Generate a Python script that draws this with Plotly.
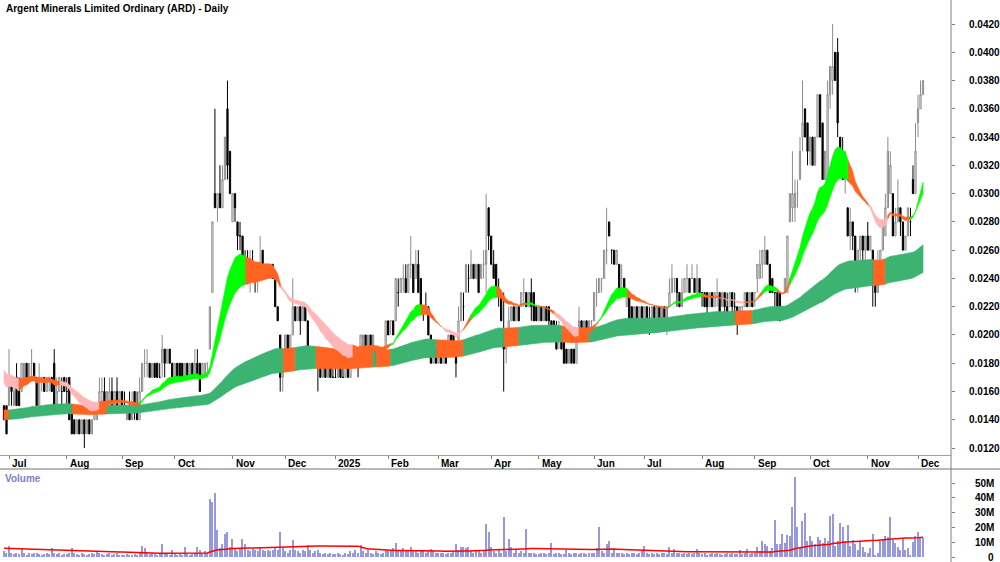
import numpy as np
import pandas as pd
import plotly.graph_objects as go

# ---------------- DATA (prices in thousandths of a dollar, volume in millions) ----------------
title_text = "Argent Minerals Limited Ordinary (ARD) - Daily"
month_tick_labels = ["Jul", "Aug", "Sep", "Oct", "Nov", "Dec", "2025", "Feb", "Mar", "Apr",
                     "May", "Jun", "Jul", "Aug", "Sep", "Oct", "Nov", "Dec"]
asx_holidays = ["2024-12-25", "2024-12-26", "2025-01-01", "2025-01-27", "2025-04-18",
                "2025-04-21", "2025-04-25", "2025-06-09"]
first_day, last_day = "2024-06-27", "2025-12-03"

# (open, high, low, close)
jun24 = [(15,15,14,14),(15,15,13,13)]
jul24 = [(15,19,15,17),(17,17,15,16),(15,17,15,16),(17,18,15,15),(16,17,15,15),
         (16,18,16,18),(17,18,17,18),(18,18,17,17),(17,18,17,18),(18,19,17,18),
         (18,18,17,17),(17,17,15,15),(15,18,15,17),(17,17,16,17),(17,17,16,16),
         (16,17,16,17),(17,17,16,17),(17,17,16,16),(18,19,15,15),(15,17,15,16),
         (16,17,16,17),(16,17,15,16),(17,17,16,16)]
aug24 = [(16,17,15,16),(17,17,14,14),(15,15,13,13),(14,14,13,13),(13,14,13,14),
         (14,14,13,13),(13,14,13,14),(14,14,12,13),(13,14,13,14),(14,14,13,13),
         (13,14,13,14),(14,15,14,15),(14,15,14,15),(15,17,15,16),(16,17,15,16),
         (16,17,15,15),(15,16,15,16),(15,17,15,16),(16,17,15,15),(15,16,15,16),
         (16,17,15,15),(15,16,15,16)]
sep24 = [(16,16,15,15),(15,16,15,15),(14,15,14,15),(15,16,14,14),(14,16,14,15),
         (16,16,14,15),(15,16,14,14),(14,17,14,16),(16,18,16,18),(18,19,17,18),
         (18,19,17,18),(18,18,17,17),(17,18,17,18),(18,18,17,17),(18,18,17,17),
         (17,18,17,17),(18,20,17,19),(19,19,17,18),(18,19,18,19),(19,19,18,18),
         (18,18,17,17)]
oct24 = [(17,18,17,18),(18,18,17,17),(18,18,17,17),(18,18,17,17),(17,18,17,18),
         (18,18,17,17),(17,18,17,18),(18,18,17,17),(17,19,17,18),(18,19,17,17),
         (18,18,16,16),(17,18,17,18),(17,18,17,18),(18,18,17,18),(19,22,19,22),
         (23,28,23,28),(30,36,29,29),(29,30,28,30),(30,32,29,29),(29,32,29,31),
         (31,34,31,34),(36,38,31,32),(33,33,30,30)]
nov24 = [(28,30,28,30),(30,30,28,29),(28,28,26,27),(27,28,26,27),(27,27,25,25),
         (25,26,24,25),(25,26,24,24),(24,26,23,25),(25,26,24,24),(24,25,23,24),
         (24,25,23,25),(25,27,24,25),(26,26,24,24),(24,25,24,25),(25,25,24,25),
         (24,25,24,25),(25,25,24,24),(24,24,22,22),(22,22,21,21),(20,20,16,17),
         (17,19,16,19)]
dec24 = [(19,20,19,20),(20,20,19,19),(19,20,18,20),(20,24,20,22),(22,22,21,21),
         (21,22,21,22),(22,22,20,21),(21,22,21,22),(22,22,21,21),(21,21,19,19),
         (19,19,18,18),(19,19,18,18),(18,19,18,19),(18,19,16,18),(18,18,17,17),
         (17,18,17,18),(18,18,17,17),(17,18,17,18),(18,18,17,17),(17,18,17,17)]
jan25 = [(17,18,17,17),(17,18,17,18),(18,18,17,17),(17,18,17,17),(17,18,17,18),
         (18,18,17,17),(17,19,17,19),(18,19,18,19),(19,19,18,18),(19,19,17,18),
         (18,20,18,20),(19,20,19,20),(20,20,18,19),(19,20,19,20),(20,20,19,19),
         (19,20,19,20),(19,19,18,18),(18,19,18,19),(18,19,18,18),(18,19,18,19),
         (18,21,18,21)]
feb25 = [(21,21,20,20),(21,21,20,21),(21,21,20,20),(21,24,21,24),(23,24,22,23),
         (23,24,23,24),(24,25,23,24),(24,25,23,23),(23,25,23,25),(25,27,24,25),
         (25,25,23,23),(24,26,24,25),(25,26,23,23),(24,24,22,22),(22,22,21,22),
         (22,23,22,22),(22,22,20,20),(20,20,18,18),(18,19,18,19),(19,19,18,18)]
mar25 = [(18,19,18,19),(19,19,18,18),(18,19,18,19),(19,19,18,18),(19,20,19,20),
         (20,20,19,19),(20,20,19,19),(19,19,17,18),(19,22,19,21),(21,23,21,23),
         (22,23,21,22),(23,25,23,25),(24,25,23,24),(24,26,24,25),(25,25,24,24),
         (24,25,24,25),(25,25,23,23),(24,25,24,25),(25,26,24,25),(25,30,23,26),
         (29,29,26,27)]
apr25 = [(27,27,25,25),(25,26,24,24),(25,25,23,23),(23,24,22,23),(23,23,21,21),
         (20,23,16,19),(19,20,18,20),(20,22,20,21),(21,22,21,22),(22,22,21,21),
         (21,22,21,22),(22,22,21,21),(22,23,22,23),(23,24,22,23),(23,23,22,22),
         (22,23,22,23),(23,24,21,22),(23,23,21,21),(22,22,21,21)]
may25 = [(21,22,21,22),(22,22,21,21),(21,22,21,22),(22,22,21,21),(22,22,20,21),
         (21,21,20,20),(21,21,20,20),(20,21,19,19),(20,21,19,20),(20,20,19,19),
         (20,20,18,18),(19,19,18,18),(18,19,18,19),(19,19,18,18),(19,19,18,18),
         (18,20,18,20),(20,22,20,21),(21,21,20,20),(20,21,20,21),(21,21,20,20),
         (20,21,20,21),(21,21,20,21)]
jun25 = [(21,23,21,23),(23,24,22,23),(23,24,23,24),(24,24,23,24),(24,26,24,26),
         (26,29,25,26),(28,28,27,27),(26,26,25,26),(26,26,25,25),(25,26,25,26),
         (25,25,23,23),(24,25,23,24),(24,24,23,23),(22,23,22,23),(23,23,21,21),
         (22,22,21,21),(21,22,21,22),(22,22,21,21),(21,22,21,22),(22,22,21,21)]
jul25 = [(21,22,21,22),(22,22,21,21),(21,22,20,21),(21,22,21,22),(22,22,21,21),
         (21,22,21,22),(22,22,21,21),(21,22,21,22),(22,22,21,21),(21,22,20,22),
         (22,24,22,23),(23,25,23,24),(24,24,23,24),(24,24,22,23),(23,23,22,22),
         (22,24,22,23),(23,24,23,24),(24,25,23,24),(24,24,23,23),(24,25,24,24),
         (24,24,23,23),(23,25,23,24),(24,24,23,23)]
aug25 = [(23,23,22,23),(23,23,22,22),(23,23,21,22),(22,23,22,23),(23,23,22,22),
         (22,23,22,23),(23,24,22,23),(23,23,21,21),(22,23,22,23),(23,23,21,22),
         (22,23,21,21),(22,23,22,23),(23,23,21,22),(22,23,21,22),(22,22,20,21),
         (21,22,21,22),(22,22,21,22),(22,23,22,23),(23,23,22,22),(22,23,22,23),
         (23,23,22,22)]
sep25 = [(23,23,22,23),(24,25,23,25),(24,26,24,25),(25,26,24,26),(25,27,25,26),
         (26,26,25,25),(25,25,23,23),(24,24,23,23),(23,23,22,23),(23,23,21,22),
         (23,23,21,21),(22,22,21,22),(23,24,23,24),(23,27,23,27),(28,30,28,30),
         (29,33,28,30),(29,31,28,30),(30,31,29,30),(31,34,31,33),(34,38,33,35),
         (36,36,34,34),(35,35,32,33)]
oct25 = [(33,34,32,34),(34,34,32,32),(32,34,32,34),(34,37,34,37),(37,37,34,34),
         (35,35,31,31),(31,33,31,33),(31,38,31,37),(37,39,36,39),(38,42,37,39),
         (40,40,38,38),(40,41,34,35),(34,34,32,33),(33,34,31,31),(31,33,30,32),
         (29,29,27,27),(27,29,26,28),(28,28,26,27),(27,27,23,24),(24,26,23,26),
         (26,27,25,27),(27,27,25,26),(26,27,25,27)]
nov25 = [(27,28,26,26),(26,27,26,27),(26,26,22,24),(25,25,22,23),(23,26,23,25),
         (25,26,24,26),(26,28,26,28),(27,30,27,29),(29,34,29,33),(30,33,30,32),
         (30,30,27,27),(27,29,27,28),(28,31,28,29),(29,29,27,28),(28,28,26,26),
         (26,27,26,27),(27,29,27,29),(28,29,27,28),(31,32,30,30),(30,35,30,33)]
dec25 = [(35,37,34,36),(36,38,36,37),(37,38,37,38)]

vol_jun24 = [4,3]
vol_jul24 = [7.5,2.5,2,3,2,6,2.5,1.5,3,2,2.5,3,2,1.5,2,2.5,2,6,3,2,2.5,1.5,2]
vol_aug24 = [2,2.5,6,3,2,1.5,3,2,1.5,2,2.5,2,4,3,2,1.5,2,2.5,1.5,2,3,1.5]
vol_sep24 = [1.5,1,2,1.5,1,2,1.5,3,7.5,6,3,2,2.5,2,1.5,2,9,3,2,1.5,5]
vol_oct24 = [2,1.5,2,1.5,6.5,2,1.5,2,3,7,5,3,4,3,39,37,43,18,6,9,15.5,17,7]
vol_nov24 = [12,6,4,6,12,9,5,4,6,5,4,6,5,4,5,4,5,6,5,17,6]
vol_dec24 = [4,3,5,11.5,5,4,3,5,4,8,5,3,4,5,3,2,3,2,3,2]
vol_jan25 = [2,3,2,1.5,3,2,4,3,5,3,8,4,3,5,3,2,4,3,2,3,5]
vol_feb25 = [4,5,6,9.3,5,4,6,5,4,6.6,5,4,3,5,4,3,4,5.5,4,3]
vol_mar25 = [3,2.5,3,2,3,2.5,4,9,5,7,7,6,7,4,3,4,5,3,4,22.5,17]
vol_apr25 = [7,4,3,5,3,26.8,4,12,6.6,3,5,3,4,3,19,3,2.5,3,2]
vol_may25 = [2,3,2.5,2,3,9.3,2,3,2.5,2,2,5,3,2,2.5,3,2,3,2.5,2,3,2.5]
vol_jun25 = [3,6,20,4,3,9,11,3,5,3,2.5,3,2,3,2,2.5,3,2,2.5,5]
vol_jul25 = [7.5,3,2,2.5,2,3,2,2.5,3,2,6.8,3,5.5,2.5,3,2,2.5,2,3,2,2.5,5.5,3]
vol_aug25 = [2,2.5,1.5,2,3,2,2.5,2,1.5,2,3,2,2.5,2,2,4.8,2,2.5,5.2,2,3]
vol_sep25 = [3,7,4,11,9,7.5,4,6,25,8.6,8.9,15.5,9.3,15,14,34,54,20,6,24.5,30,11]
vol_oct25 = [14,10.5,9,13.4,11.6,9.3,13,10.5,28,29,7.5,10.5,23,20,10.5,21.6,7.5,11.6,9,4.8,10.5,7,3.6]
vol_nov25 = [2.5,6,15.7,1.5,2.5,11,11.6,14.5,13.4,27,11.6,9.3,7,4.8,12.5,4.8,6,1.5,10,14]
vol_dec25 = [17,12.7,12.7]

short_periods = [21, 28, 35]
short_start = [16.9, 17.3, 17.7]
long_periods = [150, 250]
long_start = [14.7, 14.0]
vol_ma_period = 60
vol_ma_start = 6.0

# short-ribbon trend state as shown on the chart: g = rising, o = mixed, p = falling
short_state_changes = [
    ("2024-06-27", "p"), ("2024-07-05", "o"), ("2024-07-29", "p"), ("2024-08-20", "o"),
    ("2024-09-11", "g"), ("2024-11-08", "o"), ("2024-11-28", "p"), ("2025-01-13", "o"),
    ("2025-02-04", "g"), ("2025-02-20", "o"), ("2025-03-04", "p"), ("2025-03-17", "o"),
    ("2025-03-20", "g"), ("2025-04-03", "o"), ("2025-04-23", "g"), ("2025-05-01", "o"),
    ("2025-05-09", "p"), ("2025-05-23", "o"), ("2025-06-04", "g"), ("2025-06-20", "o"),
    ("2025-07-15", "g"), ("2025-08-01", "o"), ("2025-08-13", "p"), ("2025-08-26", "o"),
    ("2025-09-04", "g"), ("2025-09-12", "o"), ("2025-09-19", "g"), ("2025-10-22", "o"),
    ("2025-11-03", "p"), ("2025-11-13", "o"), ("2025-11-26", "g"),
]
# periods where the long ribbon is shown in orange (price under the long-term trend)
long_orange_periods = [
    ("2024-06-27", "2024-06-28"), ("2024-08-05", "2024-08-22"), ("2024-11-29", "2024-12-05"),
    ("2024-12-18", "2025-01-22"), ("2025-01-24", "2025-02-03"), ("2025-02-28", "2025-03-14"),
    ("2025-04-08", "2025-04-15"), ("2025-05-14", "2025-05-28"), ("2025-08-20", "2025-08-28"),
    ("2025-11-05", "2025-11-11"),
]

# ---------------- BUILD ----------------
months = [jun24, jul24, aug24, sep24, oct24, nov24, dec24, jan25, feb25, mar25, apr25,
          may25, jun25, jul25, aug25, sep25, oct25, nov25, dec25]
vmonths = [vol_jun24, vol_jul24, vol_aug24, vol_sep24, vol_oct24, vol_nov24, vol_dec24,
           vol_jan25, vol_feb25, vol_mar25, vol_apr25, vol_may25, vol_jun25, vol_jul25,
           vol_aug25, vol_sep25, vol_oct25, vol_nov25, vol_dec25]
bars = [b for m in months for b in m]
vols = np.array([v for m in vmonths for v in m], dtype=float)
N = len(bars)
o = np.array([b[0] for b in bars]) / 1000.0
h = np.array([b[1] for b in bars]) / 1000.0
l = np.array([b[2] for b in bars]) / 1000.0
c = np.array([b[3] for b in bars]) / 1000.0
idx = np.arange(N)

dates = pd.bdate_range(first_day, last_day, freq="C", holidays=asx_holidays)[:N]
tick_idx = [i for i in range(1, len(dates)) if dates[i].month != dates[i - 1].month]


def ema(vals, period, start):
    a = 2.0 / (period + 1)
    out, e = [], start
    for v in vals:
        e = e + a * (v - e)
        out.append(e)
    return np.array(out)


short = [ema(c, p, s / 1000.0) for p, s in zip(short_periods, short_start)]
longs = [ema(c, p, s / 1000.0) for p, s in zip(long_periods, long_start)]
s_up = np.maximum.reduce(short)
s_lo = np.minimum.reduce(short)
l_up = np.maximum(longs[0], longs[1])
l_lo = np.minimum(longs[0], longs[1])

chg_dates = pd.to_datetime([d for d, _ in short_state_changes])
chg_states = [s for _, s in short_state_changes]
s_state = [chg_states[max(0, chg_dates.searchsorted(d, side="right") - 1)] for d in dates]

l_state = ["g"] * N
for a, b in long_orange_periods:
    a, b = pd.Timestamp(a), pd.Timestamp(b)
    for i, d in enumerate(dates):
        if a <= d <= b:
            l_state[i] = "o"

vol_ma = []
for i in range(N):
    window = vols[max(0, i - vol_ma_period + 1): i + 1]
    missing = vol_ma_period - len(window)
    vol_ma.append((window.sum() + missing * vol_ma_start) / vol_ma_period)

COL = {"g": "#00ff00", "o": "#ff6422", "p": "#ffb6b6"}
LONG_COL = {"g": "#3cb371", "o": "#ff6422"}


def ribbon(upper, lower, states, cmap):
    groups = {}
    i = 0
    while i < N - 1:
        s = states[i]
        j = i
        while j + 1 < N - 1 and states[j + 1] == s:
            j += 1
        xs = list(range(i, j + 2))
        up = list(upper[i:j + 2])
        lo = list(lower[i:j + 2])
        px = xs + xs[::-1] + [xs[0]]
        py = up + lo[::-1] + [up[0]]
        gx, gy = groups.setdefault(s, ([], []))
        if gx:
            gx.append(None)
            gy.append(None)
        gx.extend(px)
        gy.extend(py)
        i = j + 1
    tr = []
    for s, (gx, gy) in groups.items():
        tr.append(go.Scatter(x=gx, y=gy, fill="toself", fillcolor=cmap[s], mode="lines",
                             line=dict(width=0.6, color=cmap[s]), hoverinfo="skip",
                             xaxis="x", yaxis="y"))
    return tr


fig = go.Figure()
for t in ribbon(l_up, l_lo, l_state, LONG_COL):
    fig.add_trace(t)
for t in ribbon(s_up, s_lo, s_state, COL):
    fig.add_trace(t)

fig.add_trace(go.Candlestick(
    x=idx, open=o, high=h, low=l, close=c, whiskerwidth=0,
    increasing=dict(line=dict(color="#8c8c8c", width=1), fillcolor="white"),
    decreasing=dict(line=dict(color="black", width=1), fillcolor="black"),
    hoverinfo="skip", xaxis="x", yaxis="y"))

fig.add_trace(go.Bar(x=idx, y=vols, width=0.45, marker=dict(color="#9898dc", line=dict(width=0)),
                     xaxis="x2", yaxis="y2", hoverinfo="skip"))
fig.add_trace(go.Scatter(x=idx, y=vol_ma, mode="lines", line=dict(color="#ff0000", width=1.5),
                         xaxis="x2", yaxis="y2", hoverinfo="skip"))

W, H = 1000, 562
RM = 49
plot_w = W - RM
x0 = -4.0 / 2.511
x1 = x0 + plot_w / 2.511
price_top = 0.0420 + 24 / 14.135 / 1000.0
price_bot = 0.0420 - (455 - 24) / 14.135 / 1000.0
font_b = dict(family="Liberation Sans, Arial, sans-serif", size=10, color="black", weight="bold")


def py_(px):
    return (H - px) / H


annotations = [
    dict(text=title_text, x=4 / plot_w, y=py_(8.5), xref="paper", yref="paper",
         xanchor="left", yanchor="middle", showarrow=False, font=font_b),
    dict(text="Volume", x=3 / plot_w, y=py_(478), xref="paper", yref="paper",
         xanchor="left", yanchor="middle", showarrow=False,
         font=dict(family="Liberation Sans, Arial, sans-serif", size=10, color="#8080c0", weight="bold")),
]
for ti, lab in zip(tick_idx, month_tick_labels):
    annotations.append(dict(text=lab, x=ti, y=py_(463), xref="x", yref="paper", xanchor="left",
                            yanchor="middle", xshift=1, showarrow=False, font=font_b))
vol_ticks = [0, 10, 20, 30, 40, 50]
for v in vol_ticks:
    annotations.append(dict(text=("%dM" % v) if v else "0", x=996 / plot_w, y=v, xref="paper",
                            yref="y2", xanchor="right", yanchor="middle", showarrow=False, font=font_b))

shapes = [
    dict(type="line", xref="paper", yref="paper", x0=0, x1=W / plot_w, y0=py_(469), y1=py_(469),
         line=dict(color="#707070", width=1)),
    dict(type="line", xref="paper", yref="paper", x0=1, x1=1, y0=0, y1=1,
         line=dict(color="#808080", width=1)),
]

fig.update_layout(
    width=W, height=H, margin=dict(l=0, r=RM, t=0, b=0),
    plot_bgcolor="white", paper_bgcolor="white", showlegend=False,
    annotations=annotations, shapes=shapes, bargap=0,
    xaxis=dict(domain=[0, 1], range=[x0, x1], anchor="y", showgrid=False, zeroline=False,
               showline=True, linecolor="#a0a0a0", linewidth=1, ticks="outside", ticklen=3,
               tickcolor="#808080", tickvals=tick_idx, showticklabels=False,
               rangeslider=dict(visible=False), fixedrange=True),
    yaxis=dict(domain=[py_(455), 1], range=[price_bot, price_top], side="right", anchor="x",
               showgrid=False, zeroline=False, showline=False, ticks="outside", ticklen=3,
               tickcolor="#808080", tick0=0, dtick=0.002, tickformat=".4f",
               tickfont=font_b, ticklabelstandoff=12),
    xaxis2=dict(domain=[0, 1], range=[x0, x1], anchor="y2", showgrid=False, zeroline=False,
                showline=False, showticklabels=False, ticks=""),
    yaxis2=dict(domain=[py_(557), py_(469)], range=[0, 59.5], side="right", anchor="x2",
                showgrid=False, zeroline=False, showline=False, ticks="outside", ticklen=3,
                tickcolor="#808080", tickvals=vol_ticks, showticklabels=False),
)

fig.write_html("out.html", config={"displayModeBar": False})
